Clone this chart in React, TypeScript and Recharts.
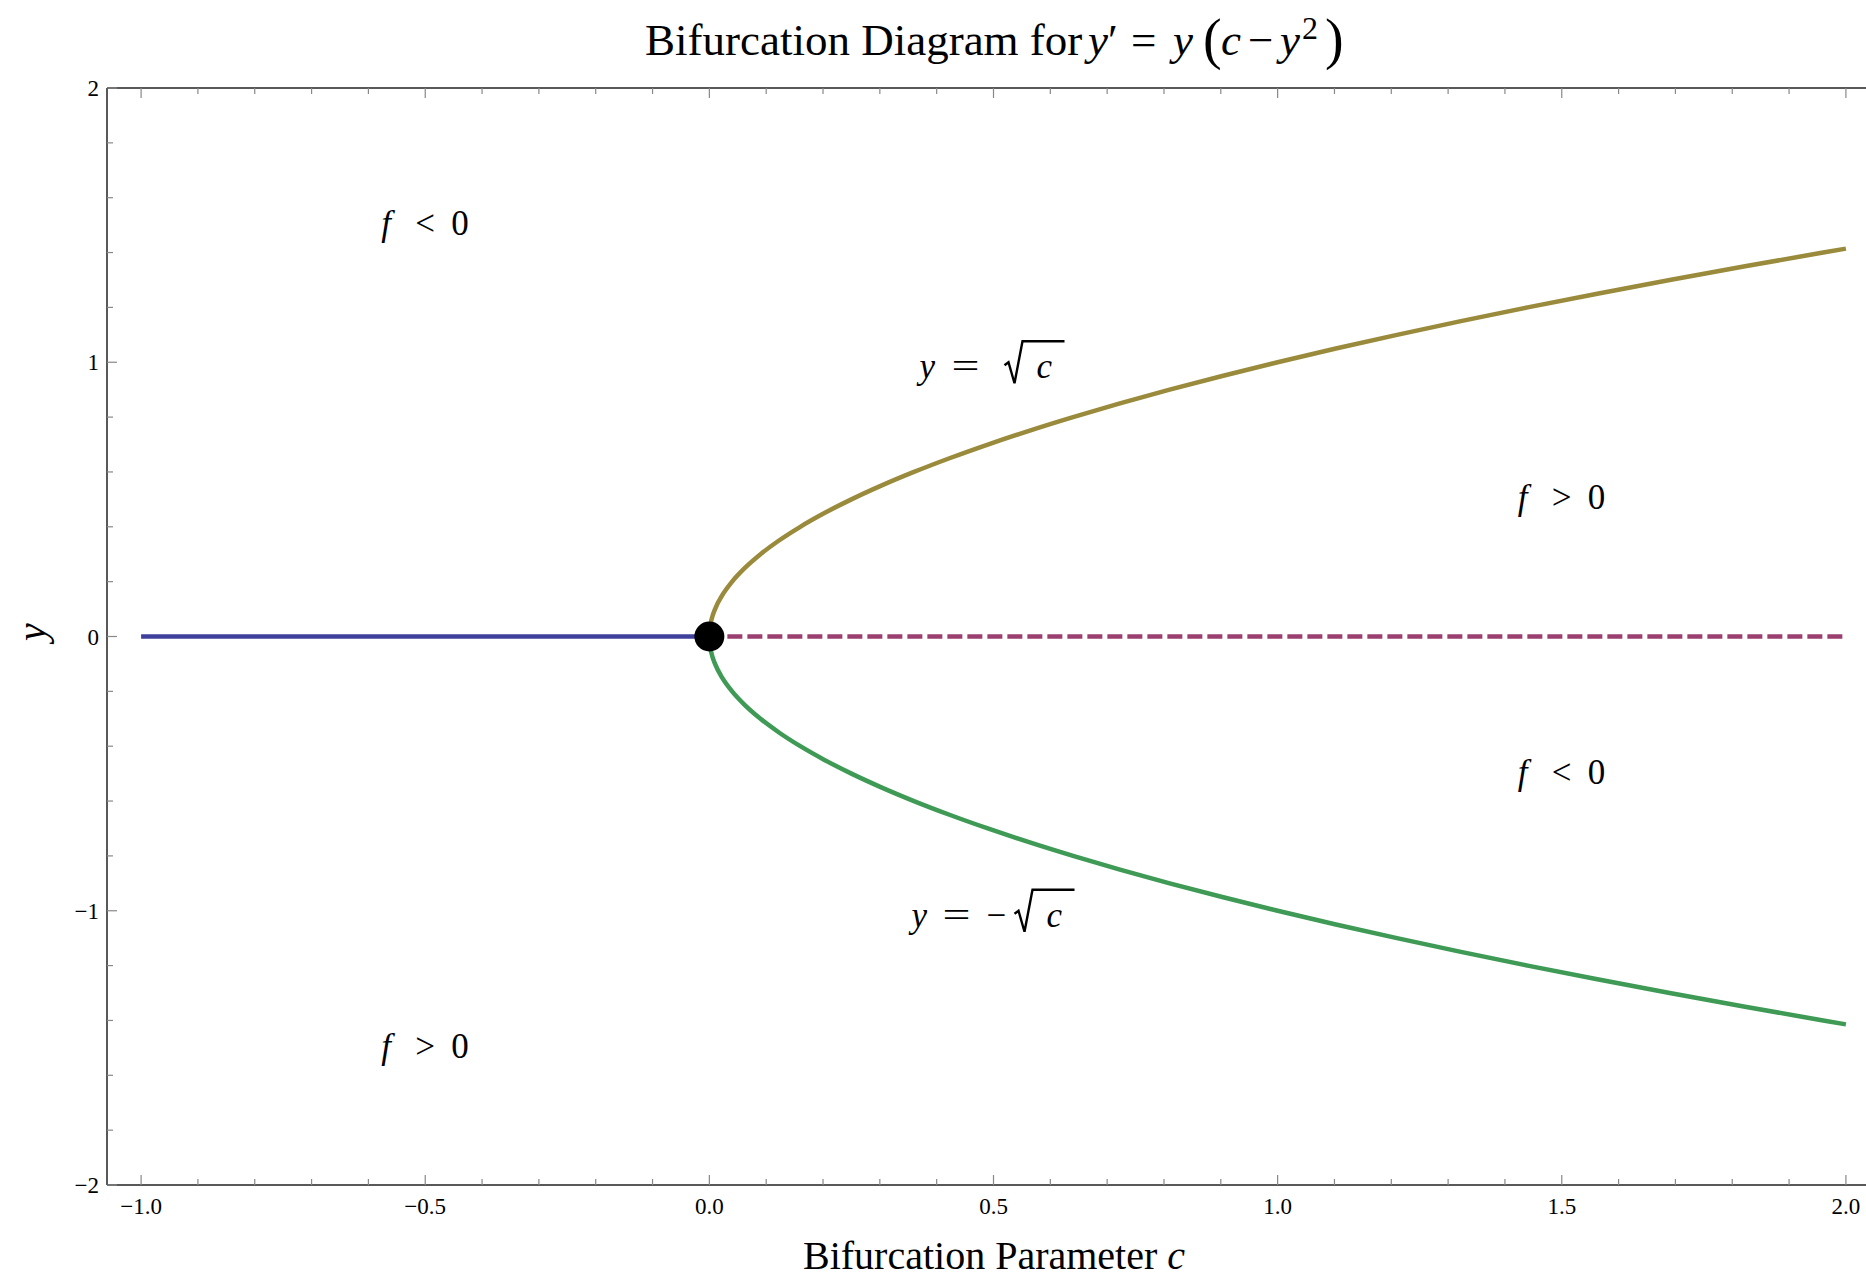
import React from "react";
import { ComposedChart, Line, Scatter, XAxis, YAxis, ReferenceDot } from "recharts";

const SERIF = '"Liberation Serif", "Times New Roman", serif';
const AXIS = "#222";
const TICK = "#888";

// equilibria of y' = y (c - y^2)
const stableZeroC = [-1, 0];
const stableZeroY = [0, 0];
const unstableZeroC = [0, 2];
const unstableZeroY = [0, 0];

const rootC = [
  0, 0.000625, 0.0025, 0.005625, 0.01, 0.0225, 0.04, 0.0625, 0.09, 0.1225, 0.16, 0.2025, 0.25,
  0.3025, 0.36, 0.4225, 0.49, 0.5625, 0.64, 0.7225, 0.81, 0.9025, 1.0, 1.1025, 1.21, 1.3225,
  1.44, 1.5625, 1.69, 1.8225, 1.96, 2.0,
];
const upperRootY = [
  0, 0.025, 0.05, 0.075, 0.1, 0.15, 0.2, 0.25, 0.3, 0.35, 0.4, 0.45, 0.5, 0.55, 0.6, 0.65, 0.7,
  0.75, 0.8, 0.85, 0.9, 0.95, 1.0, 1.05, 1.1, 1.15, 1.2, 1.25, 1.3, 1.35, 1.4, 1.4142,
];
const lowerRootY = [
  0, -0.025, -0.05, -0.075, -0.1, -0.15, -0.2, -0.25, -0.3, -0.35, -0.4, -0.45, -0.5, -0.55, -0.6,
  -0.65, -0.7, -0.75, -0.8, -0.85, -0.9, -0.95, -1.0, -1.05, -1.1, -1.15, -1.2, -1.25, -1.3,
  -1.35, -1.4, -1.4142,
];

const bifurcationC = [0];
const bifurcationY = [0];

const xMajorTicks = [-1, -0.5, 0, 0.5, 1, 1.5, 2];
const xTicks = [
  -1, -0.9, -0.8, -0.7, -0.6, -0.5, -0.4, -0.3, -0.2, -0.1, 0, 0.1, 0.2, 0.3, 0.4, 0.5, 0.6, 0.7,
  0.8, 0.9, 1, 1.1, 1.2, 1.3, 1.4, 1.5, 1.6, 1.7, 1.8, 1.9, 2,
];
const yMajorTicks = [-2, -1, 0, 1, 2];
const yTicks = [
  -2, -1.8, -1.6, -1.4, -1.2, -1, -0.8, -0.6, -0.4, -0.2, 0, 0.2, 0.4, 0.6, 0.8, 1, 1.2, 1.4, 1.6,
  1.8, 2,
];

const regionLabels = [
  { c: -0.5, y: 1.5, text: "f < 0" },
  { c: -0.5, y: -1.5, text: "f > 0" },
  { c: 1.5, y: 0.5, text: "f > 0" },
  { c: 1.5, y: -0.5, text: "f < 0" },
];
const branchLabels = [
  { c: 0.5, y: 1, negative: false },
  { c: 0.5, y: -1, negative: true },
];

const toPoints = (cs: number[], ys: number[]) => cs.map((c, i) => ({ c, y: ys[i] }));

const isMajor = (v: number, majors: number[]) => majors.some((m) => Math.abs(m - v) < 1e-9);
const minus = (s: string) => s.replace("-", "\u2212");

function BottomTick({ x, y, payload }: any) {
  const major = isMajor(payload.value, xMajorTicks);
  return (
    <g>
      <line x1={x} x2={x} y1={y} y2={y - (major ? 10 : 6)} stroke={TICK} strokeWidth={1.2} />
      {major && (
        <text x={x} y={y + 29} textAnchor="middle" fontFamily={SERIF} fontSize={23} fill="#000">
          {minus(payload.value.toFixed(1))}
        </text>
      )}
    </g>
  );
}

function TopTick({ x, y, payload }: any) {
  const major = isMajor(payload.value, xMajorTicks);
  return <line x1={x} x2={x} y1={y} y2={y + (major ? 10 : 6)} stroke={TICK} strokeWidth={1.2} />;
}

function LeftTick({ x, y, payload }: any) {
  const major = isMajor(payload.value, yMajorTicks);
  return (
    <g>
      <line x1={x} x2={x + (major ? 10 : 6)} y1={y} y2={y} stroke={TICK} strokeWidth={1.2} />
      {major && (
        <text x={x - 8} y={y} dy="0.35em" textAnchor="end" fontFamily={SERIF} fontSize={23} fill="#000">
          {minus(String(payload.value))}
        </text>
      )}
    </g>
  );
}

// "f < 0" style annotation, glyphs spaced out like typeset math
function RegionLabel({ cx, cy, text }: any) {
  const [f, rel, zero] = text.split(" ");
  const b = cy + 10;
  return (
    <g fontFamily={SERIF} fontSize={35} fill="#000">
      <text x={cx - 44} y={b} fontStyle="italic">{f}</text>
      <text x={cx - 10} y={b}>{rel}</text>
      <text x={cx + 26} y={b}>{zero}</text>
    </g>
  );
}

// "y = √c" / "y = −√c" with a drawn radical
function BranchLabel({ cx, cy, negative }: any) {
  const b = cy + 16;
  const r = cx + (negative ? 21 : 11);
  return (
    <g fontFamily={SERIF} fontSize={35} fill="#000">
      <text x={cx + (negative ? -82 : -74)} y={b} fontStyle="italic">y</text>
      <text x={cx + (negative ? -51 : -42)} y={b} textLength={28} lengthAdjust="spacingAndGlyphs">=</text>
      {negative && <text x={cx - 7} y={b}>{"\u2212"}</text>}
      <path
        d={`M ${r} ${b - 13} L ${r + 4} ${b - 16} L ${r + 10} ${b + 5} L ${r + 18} ${b - 37} L ${r + 60} ${b - 37}`}
        fill="none"
        stroke="#000"
        strokeWidth={2.4}
        strokeLinejoin="miter"
      />
      <text x={r + 32} y={b} fontStyle="italic">c</text>
    </g>
  );
}

function Dot({ cx, cy }: any) {
  return <circle cx={cx} cy={cy} r={15} fill="#000" />;
}

export default function App() {
  const domainX: [number, number] = [-1.06, 2.06];
  return (
    <div
      style={{
        position: "absolute",
        left: 0,
        top: 0,
        width: 1866,
        height: 1280,
        overflow: "hidden",
        background: "#fff",
      }}
    >
      <ComposedChart width={1881} height={1280} margin={{ top: 0, right: 1, bottom: 0, left: 0 }}>
        <XAxis
          xAxisId="bottom"
          orientation="bottom"
          type="number"
          dataKey="c"
          domain={domainX}
          allowDataOverflow
          ticks={xTicks}
          interval={0}
          height={95}
          tickSize={0}
          tickMargin={0}
          tickLine={false}
          axisLine={{ stroke: AXIS, strokeWidth: 1.5 }}
          tick={BottomTick}
        />
        <XAxis
          xAxisId="top"
          orientation="top"
          type="number"
          dataKey="c"
          domain={domainX}
          allowDataOverflow
          ticks={xTicks}
          interval={0}
          height={88}
          tickSize={0}
          tickMargin={0}
          tickLine={false}
          axisLine={{ stroke: AXIS, strokeWidth: 1.5 }}
          tick={TopTick}
        />
        <YAxis
          yAxisId="left"
          orientation="left"
          type="number"
          dataKey="y"
          domain={[-2, 2]}
          allowDataOverflow
          ticks={yTicks}
          interval={0}
          width={107}
          tickSize={0}
          tickMargin={0}
          tickLine={false}
          axisLine={{ stroke: AXIS, strokeWidth: 1.5 }}
          tick={LeftTick}
        />

        <Line
          xAxisId="bottom"
          yAxisId="left"
          data={toPoints(stableZeroC, stableZeroY)}
          dataKey="y"
          type="linear"
          stroke="#3f3f9c"
          strokeWidth={4.5}
          dot={false}
          isAnimationActive={false}
        />
        <Line
          xAxisId="bottom"
          yAxisId="left"
          data={toPoints(unstableZeroC, unstableZeroY)}
          dataKey="y"
          type="linear"
          stroke="#9b3f70"
          strokeWidth={4.5}
          strokeDasharray="15 5"
          strokeDashoffset={2}
          dot={false}
          isAnimationActive={false}
        />
        <Line
          xAxisId="bottom"
          yAxisId="left"
          data={toPoints(rootC, upperRootY)}
          dataKey="y"
          type="monotone"
          stroke="#9a8a3c"
          strokeWidth={4.5}
          dot={false}
          isAnimationActive={false}
        />
        <Line
          xAxisId="bottom"
          yAxisId="left"
          data={toPoints(rootC, lowerRootY)}
          dataKey="y"
          type="monotone"
          stroke="#3e9a55"
          strokeWidth={4.5}
          dot={false}
          isAnimationActive={false}
        />
        <Scatter
          xAxisId="bottom"
          yAxisId="left"
          data={toPoints(bifurcationC, bifurcationY)}
          dataKey="y"
          fill="#000"
          shape={Dot}
          isAnimationActive={false}
        />

        {regionLabels.map((l, i) => (
          <ReferenceDot
            key={`region-${i}`}
            xAxisId="bottom"
            yAxisId="left"
            x={l.c}
            y={l.y}
            r={0}
            shape={(p: any) => <RegionLabel cx={p.cx} cy={p.cy} text={l.text} />}
          />
        ))}
        {branchLabels.map((l, i) => (
          <ReferenceDot
            key={`branch-${i}`}
            xAxisId="bottom"
            yAxisId="left"
            x={l.c}
            y={l.y}
            r={0}
            shape={(p: any) => <BranchLabel cx={p.cx} cy={p.cy} negative={l.negative} />}
          />
        ))}
      </ComposedChart>

      <svg
        width={1866}
        height={1280}
        style={{ position: "absolute", left: 0, top: 0, pointerEvents: "none" }}
        fontFamily={SERIF}
        fill="#000"
      >
        <text y={55} fontSize={45}>
          <tspan x={645}>Bifurcation Diagram for</tspan>
          <tspan x={1088} fontStyle="italic">y</tspan>
          <tspan x={1108}>{"\u2032"}</tspan>
          <tspan x={1131}>=</tspan>
          <tspan x={1173} fontStyle="italic">y</tspan>
          <tspan x={1203} fontSize={56} dy={3}>(</tspan>
          <tspan x={1221} dy={-3} fontStyle="italic">c</tspan>
          <tspan x={1248}>{"\u2212"}</tspan>
          <tspan x={1280} fontStyle="italic">y</tspan>
          <tspan x={1302} dy={-16} fontSize={32}>2</tspan>
          <tspan x={1325} dy={19} fontSize={56}>)</tspan>
        </text>
        <text x={994} y={1269} fontSize={40} textAnchor="middle">
          Bifurcation Parameter <tspan fontStyle="italic">c</tspan>
        </text>
        <text
          x={45}
          y={632}
          fontSize={40}
          fontStyle="italic"
          textAnchor="middle"
          transform="rotate(-90 45 632)"
        >
          y
        </text>
      </svg>
    </div>
  );
}
